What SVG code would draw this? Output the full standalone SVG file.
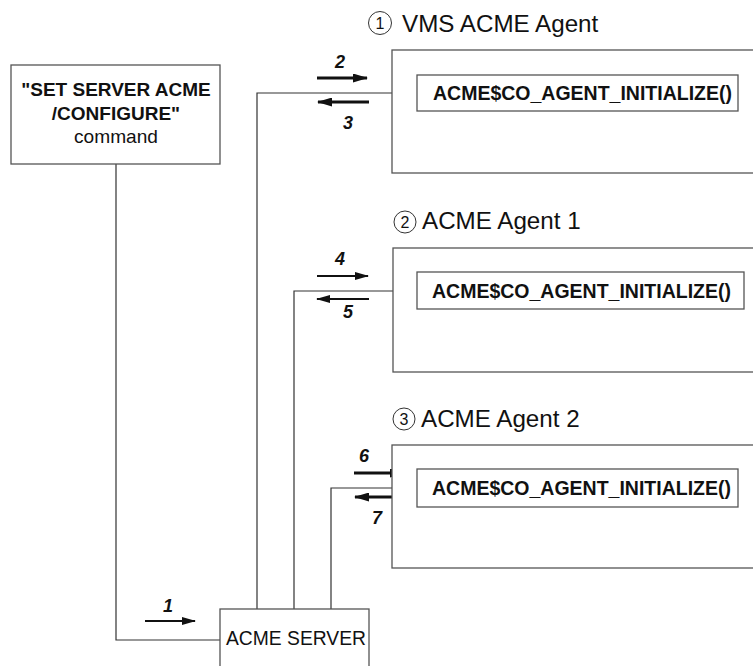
<svg xmlns="http://www.w3.org/2000/svg" width="753" height="666" viewBox="0 0 753 666">
  <style>
    .box { fill: #fff; stroke: #555; stroke-width: 1.3; }
    .wire { fill: none; stroke: #333; stroke-width: 1.2; }
    .fn { font-family: "Liberation Sans", Arial, sans-serif; font-weight: bold; font-size: 19.5px; fill: #111; }
    .title { font-family: "Liberation Sans", Arial, sans-serif; font-size: 24.2px; fill: #111; }
    .num { font-family: "Liberation Sans", Arial, sans-serif; font-weight: bold; font-style: italic; font-size: 18px; fill: #111; text-anchor: middle; }
    .step { font-family: "Liberation Sans", Arial, sans-serif; font-size: 16px; fill: #111; text-anchor: middle; }
    .ring { fill: #fff; stroke: #333; stroke-width: 1; }
    .arr { stroke: #111; stroke-width: 3; fill: none; }
    .arr-thin { stroke: #111; stroke-width: 2; fill: none; }
    .cmd { font-family: "Liberation Sans", Arial, sans-serif; font-size: 19px; fill: #111; text-anchor: middle; }
  </style>
  <defs>
    <marker id="head" viewBox="0 0 15 9" refX="14" refY="4.5" markerWidth="15" markerHeight="9" markerUnits="userSpaceOnUse" orient="auto">
      <path d="M0,0 L15,4.5 L0,9 Z" fill="#111"/>
    </marker>
    <marker id="head-thin" viewBox="0 0 14 8" refX="13" refY="4" markerWidth="14" markerHeight="8" markerUnits="userSpaceOnUse" orient="auto">
      <path d="M0,0 L14,4 L0,8 Z" fill="#111"/>
    </marker>
  </defs>

  <rect width="753" height="666" fill="#fff"/>

  <!-- connectors -->
  <g id="connectors">
    <polyline class="wire" points="116,164 116,640 220,640"/>
    <polyline class="wire" points="417,93 257,93 257,609"/>
    <polyline class="wire" points="417,291 294,291 294,609"/>
    <polyline class="wire" points="417,488 331,488 331,609"/>

    <line class="arr-thin" x1="145" y1="621" x2="195" y2="621" marker-end="url(#head-thin)"/>
    <text class="num" x="168" y="612">1</text>

    <line class="arr" x1="317" y1="78" x2="367" y2="78" marker-end="url(#head)"/>
    <text class="num" x="340" y="68">2</text>
    <line class="arr" x1="369" y1="102" x2="318" y2="102" marker-end="url(#head)"/>
    <text class="num" x="348" y="129">3</text>

    <line class="arr-thin" x1="317" y1="276" x2="368" y2="276" marker-end="url(#head-thin)"/>
    <text class="num" x="340" y="265">4</text>
    <line class="arr-thin" x1="369" y1="299" x2="317" y2="299" marker-end="url(#head-thin)"/>
    <text class="num" x="348" y="318">5</text>

    <line class="arr" x1="354" y1="473" x2="404" y2="473" marker-end="url(#head)"/>
    <text class="num" x="364" y="462">6</text>
    <line class="arr" x1="406" y1="497" x2="355" y2="497" marker-end="url(#head)"/>
    <text class="num" x="377" y="524">7</text>
  </g>

  <!-- command box -->
  <g id="command">
    <rect class="box" x="11" y="65" width="209" height="99"/>
    <text class="cmd" x="116" y="96" font-weight="bold">"SET SERVER ACME</text>
    <text class="cmd" x="116" y="120" font-weight="bold">/CONFIGURE"</text>
    <text class="cmd" x="116" y="143" font-size="18.5" textLength="84" lengthAdjust="spacingAndGlyphs">command</text>
  </g>

  <!-- server -->
  <g id="server">
    <rect class="box" x="220" y="609" width="149" height="70"/>
    <text x="226" y="645" font-family="Liberation Sans, Arial, sans-serif" font-size="20" fill="#111" textLength="140" lengthAdjust="spacingAndGlyphs">ACME SERVER</text>
  </g>

  <!-- VMS ACME Agent -->
  <g id="agent-vms">
    <circle class="ring" cx="380" cy="23" r="11.5"/>
    <text class="step" x="380" y="29">1</text>
    <text class="title" x="402" y="32">VMS ACME Agent</text>
    <rect class="box" x="392" y="50" width="370" height="123"/>
    <rect class="box" x="417" y="75" width="321" height="36"/>
    <text class="fn" x="433" y="100">ACME$CO_AGENT_INITIALIZE()</text>
  </g>

  <!-- ACME Agent 1 -->
  <g id="agent-1">
    <circle class="ring" cx="405" cy="222" r="11"/>
    <text class="step" x="405" y="228">2</text>
    <text class="title" x="422" y="229">ACME Agent 1</text>
    <rect class="box" x="393" y="248" width="370" height="124"/>
    <rect class="box" x="417" y="272" width="327" height="37"/>
    <text class="fn" x="432" y="298">ACME$CO_AGENT_INITIALIZE()</text>
  </g>

  <!-- ACME Agent 2 -->
  <g id="agent-2">
    <circle class="ring" cx="404" cy="419" r="11"/>
    <text class="step" x="404" y="425">3</text>
    <text class="title" x="421" y="427">ACME Agent 2</text>
    <rect class="box" x="392" y="445" width="370" height="123"/>
    <rect class="box" x="417" y="469" width="321" height="38"/>
    <text class="fn" x="432" y="495">ACME$CO_AGENT_INITIALIZE()</text>
  </g>
</svg>
